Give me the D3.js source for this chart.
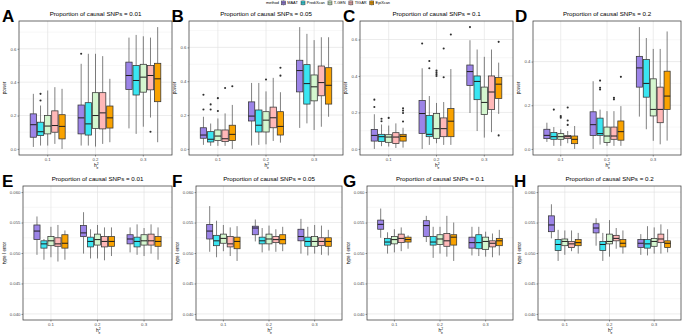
<!DOCTYPE html>
<html>
<head>
<meta charset="utf-8">
<script src="https://cdn.jsdelivr.net/npm/d3@7"></script>
<style>
body { margin: 0; background: #fff; }
svg { font-family: "Liberation Sans", Arial, sans-serif; }
</style>
</head>
<body>
<div id="chart"></div>
<script>
const methods = ["MAAT", "PrediXcan", "T-GEN", "TIGAR", "EpiXcan"];
const h2Levels = ["0.1", "0.2", "0.3"];
const propCausal = ["0.01", "0.05", "0.1", "0.2"];
const typeITicks = [0.040, 0.045, 0.050, 0.055, 0.060];
const typeILimits = [0.04, 0.06];

// each box: [lower whisker, q1, median, q3, upper whisker, outliers]
// rows = h2 levels, columns = methods
const powerA = [
    [[0.012, 0.07, 0.145, 0.21, 0.33, []], [0.02, 0.08, 0.103, 0.16, 0.26, [0.29, 0.33]], [0.02, 0.09, 0.137, 0.2, 0.35, []], [0.03, 0.1, 0.14, 0.228, 0.37, []], [0.0, 0.06, 0.135, 0.205, 0.36, []]],
    [[0.02, 0.09, 0.186, 0.263, 0.51, [0.57]], [0.02, 0.083, 0.15, 0.277, 0.57, []], [0.014, 0.123, 0.2, 0.337, 0.57, []], [0.03, 0.12, 0.216, 0.337, 0.556, []], [0.04, 0.125, 0.186, 0.257, 0.42, []]],
    [[0.123, 0.356, 0.44, 0.52, 0.667, []], [0.09, 0.323, 0.41, 0.5, 0.683, []], [0.133, 0.34, 0.43, 0.507, 0.675, []], [0.188, 0.354, 0.44, 0.5, 0.667, [0.103]], [0.04, 0.283, 0.42, 0.513, 0.73, []]]
];
const powerB = [
    [[0.024, 0.063, 0.082, 0.125, 0.19, [0.233, 0.32]], [0.018, 0.041, 0.057, 0.102, 0.15, [0.233, 0.263]], [0.018, 0.05, 0.076, 0.112, 0.18, [0.224, 0.30]], [0.018, 0.043, 0.06, 0.112, 0.21, [0.36]], [0.0, 0.049, 0.086, 0.14, 0.26, [0.37]]],
    [[0.02, 0.165, 0.194, 0.278, 0.39, []], [0.024, 0.1, 0.14, 0.23, 0.39, []], [0.027, 0.1, 0.17, 0.22, 0.34, [0.41]], [0.047, 0.125, 0.184, 0.247, 0.42, []], [0.037, 0.082, 0.133, 0.22, 0.335, [0.433, 0.48]]],
    [[0.124, 0.337, 0.463, 0.524, 0.72, []], [0.151, 0.265, 0.386, 0.498, 0.68, []], [0.112, 0.284, 0.367, 0.437, 0.643, []], [0.131, 0.314, 0.392, 0.49, 0.66, []], [0.19, 0.265, 0.376, 0.48, 0.66, []]]
];
const powerC = [
    [[0.0, 0.043, 0.074, 0.107, 0.19, [0.23, 0.27]], [0.015, 0.04, 0.067, 0.08, 0.134, [0.152, 0.165]], [0.013, 0.036, 0.065, 0.078, 0.128, [0.17]], [0.005, 0.029, 0.065, 0.089, 0.14, []], [0.007, 0.043, 0.069, 0.08, 0.116, [0.15, 0.197, 0.21, 0.223]]],
    [[0.0, 0.085, 0.194, 0.266, 0.442, [0.578]], [0.022, 0.067, 0.08, 0.183, 0.29, [0.442, 0.482]], [0.031, 0.058, 0.111, 0.194, 0.252, [0.40, 0.41, 0.42, 0.43]], [0.022, 0.067, 0.111, 0.17, 0.257, [0.393, 0.551]], [0.022, 0.067, 0.152, 0.221, 0.438, [0.627]]],
    [[0.197, 0.348, 0.424, 0.46, 0.596, [0.668]], [0.098, 0.27, 0.37, 0.4, 0.545, []], [0.062, 0.188, 0.255, 0.339, 0.505, []], [0.092, 0.216, 0.312, 0.4, 0.545, []], [0.192, 0.277, 0.355, 0.391, 0.473, [0.074, 0.587]]]
];
const powerD = [
    [[0.032, 0.047, 0.062, 0.09, 0.12, []], [0.014, 0.044, 0.056, 0.075, 0.1, [0.18]], [0.014, 0.044, 0.056, 0.07, 0.09, [0.143, 0.15]], [0.026, 0.047, 0.056, 0.062, 0.082, [0.11, 0.13, 0.19]], [0.0, 0.024, 0.044, 0.059, 0.105, []]],
    [[0.0, 0.061, 0.111, 0.17, 0.31, []], [0.02, 0.062, 0.07, 0.141, 0.18, [0.272, 0.28, 0.313]], [0.014, 0.029, 0.059, 0.1, 0.173, []], [0.014, 0.044, 0.059, 0.1, 0.173, [0.227, 0.234]], [0.014, 0.04, 0.079, 0.128, 0.196, [0.33]]],
    [[0.148, 0.283, 0.371, 0.424, 0.558, []], [0.09, 0.237, 0.3, 0.409, 0.508, []], [0.037, 0.151, 0.181, 0.321, 0.458, []], [0.021, 0.12, 0.181, 0.283, 0.458, []], [0.038, 0.181, 0.242, 0.356, 0.538, []]]
];

const typeIE = [
    [[0.0497, 0.0522, 0.0536, 0.0546, 0.0560, []], [0.0489, 0.0508, 0.0515, 0.0520, 0.0523, []], [0.0493, 0.0512, 0.0520, 0.0527, 0.0543, []], [0.0486, 0.0511, 0.0515, 0.0525, 0.0546, []], [0.0489, 0.0508, 0.0516, 0.0530, 0.0537, []]],
    [[0.0499, 0.0527, 0.0533, 0.0545, 0.0567, []], [0.0491, 0.0510, 0.0519, 0.0526, 0.0539, []], [0.0491, 0.0513, 0.0522, 0.0531, 0.0546, []], [0.0488, 0.0510, 0.0519, 0.0527, 0.0542, []], [0.0495, 0.0511, 0.0519, 0.0527, 0.0542, []]],
    [[0.0501, 0.0515, 0.0523, 0.0530, 0.0542, []], [0.0497, 0.0510, 0.0519, 0.0526, 0.0547, []], [0.0495, 0.0513, 0.0520, 0.0530, 0.0541, []], [0.0499, 0.0513, 0.0520, 0.0531, 0.0547, []], [0.0489, 0.0511, 0.0519, 0.0527, 0.0542, []]]
];
const typeIF = [
    [[0.0502, 0.0523, 0.0536, 0.0547, 0.0577, []], [0.0493, 0.0512, 0.0520, 0.0529, 0.0553, []], [0.0503, 0.0516, 0.0524, 0.0531, 0.0546, []], [0.0495, 0.0510, 0.0515, 0.0527, 0.0542, []], [0.0487, 0.0507, 0.0519, 0.0526, 0.0544, []]],
    [[0.0519, 0.0530, 0.0541, 0.0544, 0.0555, []], [0.0501, 0.0515, 0.0520, 0.0526, 0.0541, []], [0.0504, 0.0515, 0.0523, 0.0531, 0.0545, []], [0.0502, 0.0517, 0.0522, 0.0527, 0.0539, []], [0.0503, 0.0515, 0.0522, 0.0530, 0.0543, []]],
    [[0.0499, 0.0520, 0.0527, 0.0539, 0.0556, []], [0.0496, 0.0511, 0.0519, 0.0526, 0.0543, []], [0.0499, 0.0511, 0.0519, 0.0527, 0.0546, []], [0.0497, 0.0512, 0.0519, 0.0525, 0.0545, []], [0.0496, 0.0511, 0.0519, 0.0525, 0.0538, []]]
];
const typeIG = [
    [[0.0525, 0.0539, 0.0547, 0.0554, 0.0573, []], [0.0499, 0.0513, 0.0518, 0.0524, 0.0534, []], [0.0501, 0.0515, 0.0522, 0.0527, 0.0539, []], [0.0503, 0.0517, 0.0524, 0.0531, 0.0542, []], [0.0507, 0.0518, 0.0522, 0.0526, 0.0529, []]],
    [[0.0518, 0.0527, 0.0545, 0.0553, 0.0561, []], [0.0492, 0.0513, 0.0518, 0.0527, 0.0543, []], [0.0499, 0.0514, 0.0523, 0.0530, 0.0543, []], [0.0494, 0.0511, 0.0520, 0.0532, 0.0561, []], [0.0487, 0.0513, 0.0526, 0.0530, 0.0550, []]],
    [[0.0496, 0.0508, 0.0517, 0.0526, 0.0543, []], [0.0495, 0.0507, 0.0517, 0.0530, 0.0543, []], [0.0494, 0.0506, 0.0519, 0.0526, 0.0535, []], [0.0493, 0.0510, 0.0516, 0.0520, 0.0532, []], [0.0496, 0.0512, 0.0520, 0.0524, 0.0538, []]]
];
const typeIH = [
    [[0.0524, 0.0535, 0.0546, 0.0561, 0.0580, []], [0.0487, 0.0504, 0.0514, 0.0522, 0.0538, []], [0.0497, 0.0512, 0.0519, 0.0523, 0.0537, []], [0.0503, 0.0509, 0.0515, 0.0519, 0.0537, []], [0.0499, 0.0512, 0.0517, 0.0522, 0.0533, []]],
    [[0.0512, 0.0533, 0.0541, 0.0548, 0.0557, []], [0.0487, 0.0504, 0.0514, 0.0519, 0.0533, []], [0.0494, 0.0515, 0.0519, 0.0531, 0.0554, []], [0.0507, 0.0520, 0.0524, 0.0529, 0.0541, []], [0.0499, 0.0510, 0.0516, 0.0522, 0.0537, []]],
    [[0.0497, 0.0509, 0.0516, 0.0522, 0.0531, []], [0.0496, 0.0508, 0.0515, 0.0522, 0.0544, []], [0.0499, 0.0511, 0.0519, 0.0524, 0.0542, []], [0.0499, 0.0517, 0.0523, 0.0531, 0.0547, []], [0.0501, 0.0509, 0.0516, 0.0520, 0.0539, []]]
];

const methodColors = ["#9c84e8", "#3ae6f2", "#d4f6cf", "#ffb8b8", "#f9a200"];

const svg = d3.select("#chart")
    .append("svg")
    .attr("width", 685)
    .attr("height", 335);

const color = d3.scaleOrdinal().domain(methods).range(methodColors);

// layout of the two rows of panels
const rows = [
    {
        top: 21, bottom: 155, yTitle: "power", titleOff: 13,
        stats: [powerA, powerB, powerC, powerD],
        letters: ["A", "B", "C", "D"],
        xr: [[19, 172], [189, 343], [360, 513], [533, 681]],
        letterX: [2, 171.5, 343, 515]
    },
    {
        top: 186, bottom: 320, yTitle: "type I error", titleOff: 17,
        stats: [typeIE, typeIF, typeIG, typeIH],
        letters: ["E", "F", "G", "H"],
        xr: [[23, 172], [196, 342], [367, 513], [538, 681]],
        letterX: [2, 172, 343, 514]
    }
];

rows.forEach((row, ri) => {
    row.stats.forEach((stats, pi) => {
        const [left, right] = row.xr[pi];
        const g = svg.append("g");

        // y scale
        let lo, hi, ticks;
        if (ri === 0) {
            const all = stats.flat().flatMap(d => [d[0], d[4], ...d[5]]);
            [lo, hi] = d3.extent(all);
        } else {
            [lo, hi] = typeILimits;
        }
        const pad = (hi - lo) * 0.05;
        const y = d3.scaleLinear()
            .domain([lo - pad, hi + pad])
            .range([row.bottom, row.top]);
        ticks = ri === 0 ? y.ticks(4) : typeITicks;
        const step = ticks[1] - ticks[0];
        const minor = [ticks[0] - step / 2, ...ticks.map(t => t + step / 2)]
            .filter(t => t > y.domain()[0] && t < y.domain()[1]);

        // x scales
        const x0 = d3.scaleBand()
            .domain(h2Levels)
            .range([left, right])
            .paddingInner(0)
            .paddingOuter(0.1);
        const bw = x0.bandwidth();
        const x1 = d3.scaleBand()
            .domain(methods)
            .range([0.125 * bw, 0.875 * bw])
            .paddingInner(0.12)
            .paddingOuter(0.06);

        // grid
        g.append("rect")
            .attr("x", left).attr("y", row.top)
            .attr("width", right - left).attr("height", row.bottom - row.top)
            .attr("fill", "#fff");
        g.selectAll(".minor")
            .data(minor)
            .join("line")
            .attr("x1", left).attr("x2", right)
            .attr("y1", d => y(d)).attr("y2", d => y(d))
            .attr("stroke", "#ececec").attr("stroke-width", 0.45);
        g.selectAll(".major")
            .data(ticks)
            .join("line")
            .attr("x1", left).attr("x2", right)
            .attr("y1", d => y(d)).attr("y2", d => y(d))
            .attr("stroke", "#e2e2e2").attr("stroke-width", 0.65);
        g.selectAll(".vgrid")
            .data(h2Levels)
            .join("line")
            .attr("x1", d => x0(d) + bw / 2).attr("x2", d => x0(d) + bw / 2)
            .attr("y1", row.top).attr("y2", row.bottom)
            .attr("stroke", "#e2e2e2").attr("stroke-width", 0.65);

        // boxes
        const boxes = [];
        stats.forEach((grp, gi) => {
            grp.forEach((s, mi) => {
                boxes.push({ h: h2Levels[gi], m: methods[mi], s: s });
            });
        });
        const bx = d => x0(d.h) + x1(d.m);
        const cx = d => bx(d) + x1.bandwidth() / 2;

        const bg = g.selectAll(".box")
            .data(boxes)
            .join("g");
        bg.append("line")
            .attr("x1", cx).attr("x2", cx)
            .attr("y1", d => y(d.s[4])).attr("y2", d => y(d.s[3]))
            .attr("stroke", "#3d3d3d").attr("stroke-width", 0.65);
        bg.append("line")
            .attr("x1", cx).attr("x2", cx)
            .attr("y1", d => y(d.s[1])).attr("y2", d => y(d.s[0]))
            .attr("stroke", "#3d3d3d").attr("stroke-width", 0.65);
        bg.append("rect")
            .attr("x", bx)
            .attr("y", d => y(d.s[3]))
            .attr("width", x1.bandwidth())
            .attr("height", d => y(d.s[1]) - y(d.s[3]))
            .attr("fill", d => color(d.m))
            .attr("stroke", "#333").attr("stroke-width", 0.75);
        bg.append("line")
            .attr("x1", bx).attr("x2", d => bx(d) + x1.bandwidth())
            .attr("y1", d => y(d.s[2])).attr("y2", d => y(d.s[2]))
            .attr("stroke", "#1e1e1e").attr("stroke-width", 1.0);
        bg.selectAll("circle")
            .data(d => d.s[5].map(v => ({ v: v, d: d })))
            .join("circle")
            .attr("cx", o => cx(o.d))
            .attr("cy", o => y(o.v))
            .attr("r", 1.05)
            .attr("fill", "#2e2e2e");

        // border
        g.append("rect")
            .attr("x", left).attr("y", row.top)
            .attr("width", right - left).attr("height", row.bottom - row.top)
            .attr("fill", "none")
            .attr("stroke", "#3c3c3c").attr("stroke-width", 0.75);

        // axes
        const fmt = ri === 0 ? d3.format(".1f") : d3.format(".3f");
        const ay = g.append("g")
            .attr("transform", `translate(${left},0)`)
            .call(d3.axisLeft(y).tickValues(ticks).tickFormat(fmt).tickSize(1.5).tickPadding(1));
        const ax = g.append("g")
            .attr("transform", `translate(0,${row.bottom})`)
            .call(d3.axisBottom(x0).tickSize(1.5).tickPadding(1.5));
        [ay, ax].forEach(a => {
            a.select(".domain").remove();
            a.selectAll(".tick line").attr("stroke", "#333").attr("stroke-width", 0.5);
            a.selectAll(".tick text")
                .attr("fill", "#4d4d4d")
                .style("font-size", "4.3px")
                .style("font-family", "'Liberation Sans', Arial, sans-serif");
        });

        // titles
        g.append("text")
            .attr("x", (left + right) / 2)
            .attr("y", row.top - 5.3)
            .attr("text-anchor", "middle")
            .style("font-size", "6.2px")
            .attr("fill", "#000")
            .text(`Proportion of causal SNPs = ${propCausal[pi]}`);

        g.append("text")
            .attr("transform", `translate(${left - row.titleOff},${(row.top + row.bottom) / 2}) rotate(-90)`)
            .attr("text-anchor", "middle")
            .style("font-size", "4.6px")
            .attr("fill", "#000")
            .text(row.yTitle);

        const xt = g.append("text")
            .attr("x", (left + right) / 2 - 1.5)
            .attr("y", row.bottom + 12.3)
            .attr("text-anchor", "start")
            .style("font-size", "4.8px")
            .attr("fill", "#000");
        xt.append("tspan").text("h");
        xt.append("tspan").attr("dy", -2).style("font-size", "3.3px").text("2");
        xt.append("tspan").attr("dx", -1.9).attr("dy", 3.4).style("font-size", "3.3px").text("e");

        g.append("text")
            .attr("x", row.letterX[pi])
            .attr("y", row.top + (ri === 0 ? 0.7 : 1))
            .style("font-size", "17px")
            .style("font-weight", "bold")
            .attr("fill", "#000")
            .text(row.letters[pi]);
    });
});

// legend
const lg = svg.append("g").attr("transform", "translate(266,4.4)");
let cursor = 0;
const lt = lg.append("text").attr("x", 0).attr("y", 0)
    .style("font-size", "3.9px").attr("fill", "#000").text("method");
cursor += lt.node().getComputedTextLength() + 2.5;
methods.forEach(m => {
    lg.append("line")
        .attr("x1", cursor + 2).attr("x2", cursor + 2)
        .attr("y1", -4.2).attr("y2", 1.2)
        .attr("stroke", "#444").attr("stroke-width", 0.4);
    lg.append("rect")
        .attr("x", cursor).attr("y", -3.4)
        .attr("width", 4).attr("height", 3.8)
        .attr("fill", color(m))
        .attr("stroke", "#333").attr("stroke-width", 0.5);
    lg.append("line")
        .attr("x1", cursor).attr("x2", cursor + 4)
        .attr("y1", -1.5).attr("y2", -1.5)
        .attr("stroke", "#222").attr("stroke-width", 0.6);
    cursor += 5.8;
    const t = lg.append("text").attr("x", cursor).attr("y", 0)
        .style("font-size", "3.9px").attr("fill", "#000").text(m);
    cursor += t.node().getComputedTextLength() + 3.2;
});
</script>
</body>
</html>
